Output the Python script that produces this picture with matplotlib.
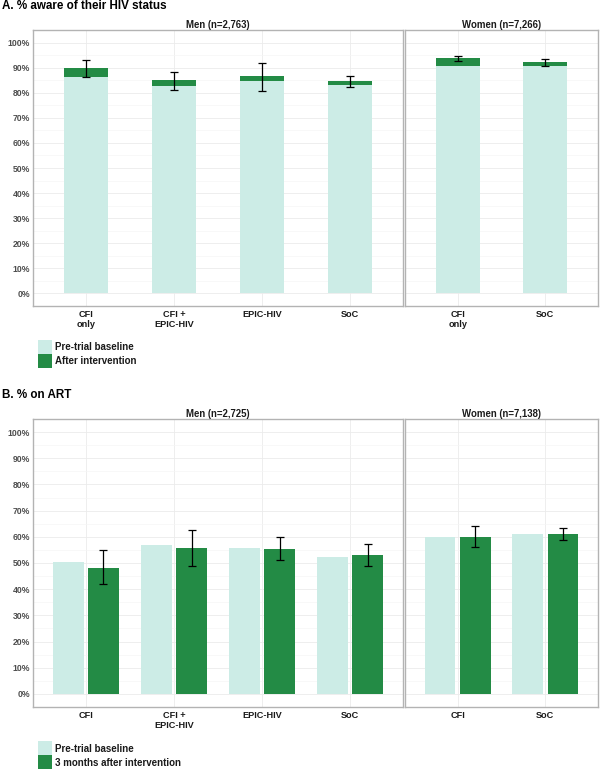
import matplotlib
matplotlib.use("Agg")
import matplotlib.pyplot as plt
from matplotlib.patches import Rectangle
import numpy as np

plt.rcParams['font.family'] = ['Liberation Sans', 'DejaVu Sans']
plt.rcParams['font.weight'] = 'bold'

# ---------------- data ----------------
men_cats_A = ["CFI\nonly", "CFI +\nEPIC-HIV", "EPIC-HIV", "SoC"]
men_base_A = [86.3, 82.5, 84.5, 83.2]
men_after_A = [90.0, 84.9, 86.8, 84.6]
men_lo_A = [86.4, 81.1, 80.7, 82.4]
men_hi_A = [93.2, 88.4, 91.8, 86.8]

women_cats_A = ["CFI\nonly", "SoC"]
women_base_A = [90.7, 90.8]
women_after_A = [93.8, 92.1]
women_lo_A = [92.7, 90.5]
women_hi_A = [94.8, 93.5]

men_cats_B = ["CFI", "CFI +\nEPIC-HIV", "EPIC-HIV", "SoC"]
men_base_B = [50.5, 56.9, 55.6, 52.3]
men_after_B = [48.2, 55.7, 55.5, 53.0]
men_lo_B = [41.8, 48.7, 51.2, 49.0]
men_hi_B = [55.1, 62.7, 60.0, 57.2]

women_cats_B = ["CFI", "SoC"]
women_base_B = [59.9, 60.9]
women_after_B = [60.1, 61.0]
women_lo_B = [56.2, 58.6]
women_hi_B = [64.1, 63.3]

strip_A = ["Men (n=2,763)", "Women (n=7,266)"]
strip_B = ["Men (n=2,725)", "Women (n=7,138)"]
title_A = "A. % aware of their HIV status"
title_B = "B. % on ART"
legend_A = ["Pre-trial baseline", "After intervention"]
legend_B = ["Pre-trial baseline", "3 months after intervention"]
yticks = list(range(0, 101, 10))

LIGHT = "#ccece6"
DARK = "#238b45"
W, H = 600, 770

fig = plt.figure(figsize=(W / 100, H / 100), dpi=100)


def px_axes(x0, y0, x1, y1):
    return fig.add_axes([x0 / W, 1 - y1 / H, (x1 - x0) / W, (y1 - y0) / H])


def style(ax, ncat, cats, show_y):
    ax.set_xlim(-0.6, ncat - 1 + 0.6)
    ax.set_ylim(-5, 105)
    ax.set_yticks(yticks)
    ax.set_yticks([v + 5 for v in yticks[:-1]], minor=True)
    ax.set_xticks(range(ncat))
    ax.set_xticklabels(cats, fontsize=6.6, fontweight='bold', color='#1a1a1a',
                       linespacing=1.05)
    if show_y:
        ax.set_yticklabels([f"{v}%" for v in yticks], fontsize=6.2,
                           fontweight='bold', color='#4d4d4d')
    else:
        ax.set_yticklabels([])
    ax.tick_params(axis='both', which='both', length=0)
    ax.tick_params(axis='x', pad=3)
    ax.tick_params(axis='y', pad=2)
    ax.grid(True, which='major', color='#ebebeb', linewidth=0.6)
    ax.grid(True, which='minor', axis='y', color='#f5f5f5', linewidth=0.5)
    ax.set_axisbelow(True)
    for s in ax.spines.values():
        s.set_color('#b3b3b3')
        s.set_linewidth(1.0)


def strip(ax, text, ypx):
    bb = ax.get_position()
    fig.text(bb.x0 + bb.width / 2, 1 - ypx / H, text, ha='center', va='center',
             fontsize=6.9, fontweight='bold', color='#1a1a1a')


def legend(x, y, labels):
    for i, (lab, col) in enumerate(zip(labels, [LIGHT, DARK])):
        fig.add_artist(Rectangle(((x) / W, 1 - (y + 14 * (i + 1)) / H), 14 / W, 14 / H,
                                 transform=fig.transFigure, color=col, lw=0))
        fig.text((x + 17) / W, 1 - (y + 14 * i + 7.5) / H, lab, ha='left', va='center',
                 fontsize=7, fontweight='bold', color='#1a1a1a')


err_kw = dict(fmt='none', ecolor='black', elinewidth=0.9, capsize=3.2, capthick=0.9)

# ---------------- Panel A ----------------
axA1 = px_axes(33, 30, 403, 306)
axA2 = px_axes(405, 30, 598, 306)
for ax, cats, base, after, lo, hi in [
        (axA1, men_cats_A, men_base_A, men_after_A, men_lo_A, men_hi_A),
        (axA2, women_cats_A, women_base_A, women_after_A, women_lo_A, women_hi_A)]:
    x = np.arange(len(cats))
    ax.bar(x, after, width=0.5, color=DARK, linewidth=0)
    ax.bar(x, base, width=0.5, color=LIGHT, linewidth=0)
    a = np.array(after)
    ax.errorbar(x, a, yerr=[a - np.array(lo), np.array(hi) - a], **err_kw)
    style(ax, len(cats), cats, ax is axA1)
strip(axA1, strip_A[0], 25)
strip(axA2, strip_A[1], 25)
fig.text(2 / W, 1 - 6 / H, title_A, ha='left', va='center', fontsize=8.4,
         fontweight='bold', color='black')
legend(38, 340, legend_A)

# ---------------- Panel B ----------------
axB1 = px_axes(33, 419, 403, 707)
axB2 = px_axes(405, 419, 598, 707)
for ax, cats, base, after, lo, hi in [
        (axB1, men_cats_B, men_base_B, men_after_B, men_lo_B, men_hi_B),
        (axB2, women_cats_B, women_base_B, women_after_B, women_lo_B, women_hi_B)]:
    x = np.arange(len(cats))
    ax.bar(x - 0.2, base, width=0.35, color=LIGHT, linewidth=0)
    ax.bar(x + 0.2, after, width=0.35, color=DARK, linewidth=0)
    a = np.array(after)
    ax.errorbar(x + 0.2, a, yerr=[a - np.array(lo), np.array(hi) - a], **err_kw)
    style(ax, len(cats), cats, ax is axB1)
strip(axB1, strip_B[0], 414)
strip(axB2, strip_B[1], 414)
fig.text(2 / W, 1 - 395 / H, title_B, ha='left', va='center', fontsize=8.4,
         fontweight='bold', color='black')
legend(38, 741, legend_B)

fig.savefig("out.png", dpi=100, facecolor='white')
